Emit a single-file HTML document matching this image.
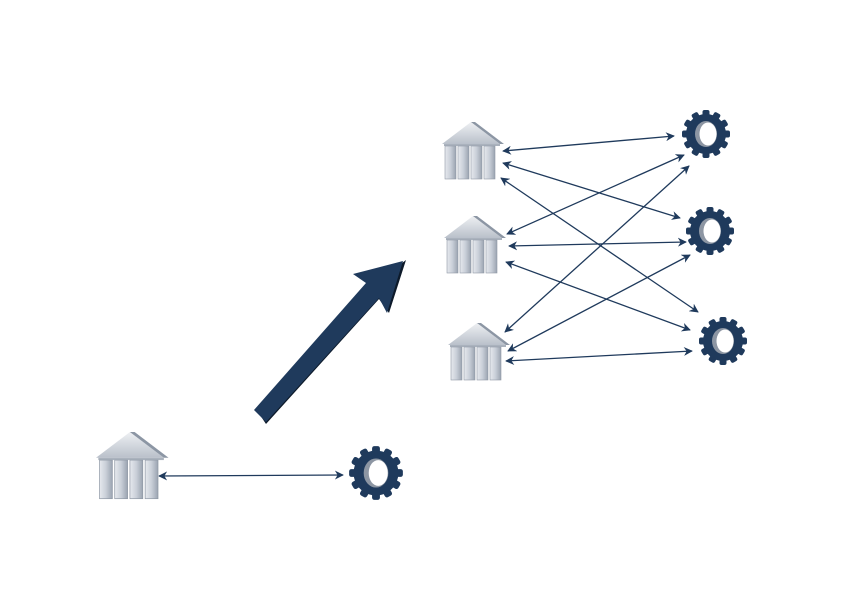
<!DOCTYPE html>
<html><head><style>html,body{margin:0;padding:0;background:#fff;}svg{display:block}</style></head>
<body>
<svg width="862" height="591" viewBox="0 0 862 591" xmlns="http://www.w3.org/2000/svg">
<defs>
<linearGradient id="col" x1="0" x2="1"><stop offset="0" stop-color="#e6e9ee"/><stop offset="0.5" stop-color="#c9cfd8"/><stop offset="1" stop-color="#9aa3b0"/></linearGradient>
<linearGradient id="roof" x1="0" y1="0" x2="0" y2="1"><stop offset="0" stop-color="#eef0f3"/><stop offset="1" stop-color="#b9c0ca"/></linearGradient>
<g id="bank">
<polygon points="0,22 29,0 58,22" fill="url(#roof)"/>
<polygon points="29,0 33,0 62,22 58,22" fill="#8c96a4"/>
<rect x="2" y="22" width="56" height="2" fill="#aab2bd"/>
<rect x="3" y="24" width="11" height="33" fill="url(#col)" stroke="#8f98a5" stroke-width="0.6"/>
<rect x="16" y="24" width="11" height="33" fill="url(#col)" stroke="#8f98a5" stroke-width="0.6"/>
<rect x="29" y="24" width="11" height="33" fill="url(#col)" stroke="#8f98a5" stroke-width="0.6"/>
<rect x="42" y="24" width="11" height="33" fill="url(#col)" stroke="#8f98a5" stroke-width="0.6"/>
</g>
<g id="gear">
<circle r="20" fill="#1f3a5c"/>
<g fill="#1f3a5c">
<rect x="-3.5" y="-24" width="7" height="8" rx="2"/>
<rect x="-3.5" y="-24" width="7" height="8" rx="2" transform="rotate(30)"/>
<rect x="-3.5" y="-24" width="7" height="8" rx="2" transform="rotate(60)"/>
<rect x="-3.5" y="-24" width="7" height="8" rx="2" transform="rotate(90)"/>
<rect x="-3.5" y="-24" width="7" height="8" rx="2" transform="rotate(120)"/>
<rect x="-3.5" y="-24" width="7" height="8" rx="2" transform="rotate(150)"/>
<rect x="-3.5" y="-24" width="7" height="8" rx="2" transform="rotate(180)"/>
<rect x="-3.5" y="-24" width="7" height="8" rx="2" transform="rotate(210)"/>
<rect x="-3.5" y="-24" width="7" height="8" rx="2" transform="rotate(240)"/>
<rect x="-3.5" y="-24" width="7" height="8" rx="2" transform="rotate(270)"/>
<rect x="-3.5" y="-24" width="7" height="8" rx="2" transform="rotate(300)"/>
<rect x="-3.5" y="-24" width="7" height="8" rx="2" transform="rotate(330)"/>
</g>
<ellipse cx="0" cy="0" rx="11" ry="13" fill="#8d96a3"/>
<ellipse cx="2" cy="0" rx="8.5" ry="11.5" fill="#fff"/>
</g>
<marker id="ah" viewBox="0 0 10 10" refX="9" refY="5" markerWidth="9" markerHeight="9" markerUnits="userSpaceOnUse" orient="auto-start-reverse"><path d="M0,0 L10,5 L0,10 L3,5 z" fill="#1f3a5c"/></marker>
</defs>

<g stroke="#1f3a5c" stroke-width="1.3" fill="none" marker-start="url(#ah)" marker-end="url(#ah)">
<line x1="503" y1="151" x2="674" y2="136"/>
<line x1="503" y1="163" x2="680" y2="218"/>
<line x1="501" y1="178" x2="698" y2="312"/>
<line x1="507" y1="234" x2="684" y2="155"/>
<line x1="509" y1="246" x2="686" y2="242"/>
<line x1="506" y1="262" x2="690" y2="330"/>
<line x1="505" y1="332" x2="689" y2="166"/>
<line x1="508" y1="351" x2="690" y2="255"/>
<line x1="506" y1="361" x2="692" y2="351"/>
<line x1="159" y1="476" x2="343" y2="475"/>
</g>

<use href="#bank" x="442" y="122"/>
<use href="#bank" x="444" y="216"/>
<use href="#bank" x="448" y="323"/>
<use href="#bank" transform="translate(96,432) scale(1.17)"/>

<use href="#gear" x="706" y="134"/>
<use href="#gear" x="710" y="231"/>
<use href="#gear" x="723" y="341"/>
<use href="#gear" transform="translate(376,473) scale(1.12)"/>

<polygon points="406,260 389,313 379,299 266,424 258,412 371,287" fill="#0d1a2a"/>
<polygon points="403,261 353,274 366,283 254,410 266,422 379,298 387,313" fill="#1f3a5c"/>
</svg>
</body></html>
